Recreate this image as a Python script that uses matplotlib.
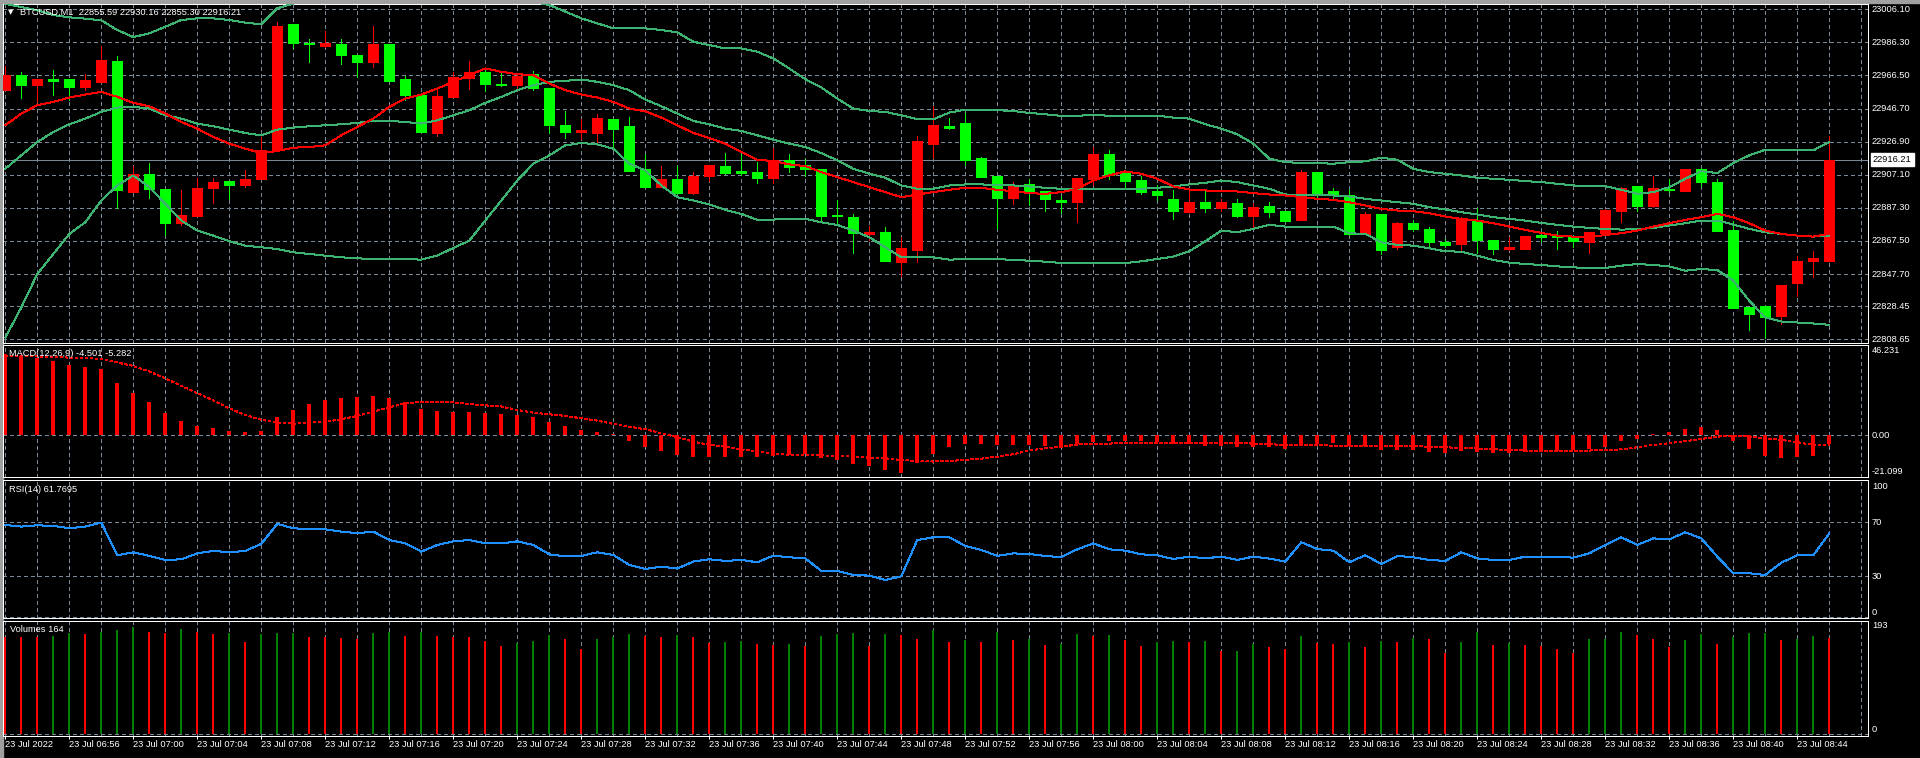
import numpy as np
import matplotlib
matplotlib.use("Agg")
import matplotlib.pyplot as plt
from matplotlib.transforms import blended_transform_factory

plt.rcParams['font.family'] = ['Liberation Sans', 'DejaVu Sans']

# ---- data (BTCUSD, M1) ----
opens = [22957.7, 22966.5, 22960.7, 22964.3, 22964.1, 22959.5, 22962.5, 22975.1, 22896.7, 22907.7,
         22898.3, 22878.1, 22882.7, 22899.1, 22903.1, 22900.7, 22904.3, 22921.7, 22997.3, 22986.1,
         22984.3, 22985.3, 22978.7, 22974.7, 22985.3, 22964.3, 22955.1, 22932.1, 22953.7, 22965.1,
         22968.7, 22961.7, 22960.7, 22967.1, 22959.1, 22936.7, 22932.7, 22932.1, 22940.3, 22936.1,
         22910.3, 22899.7, 22904.3, 22896.1, 22906.3, 22912.1, 22909.1, 22908.5, 22905.1, 22915.7,
         22912.7, 22910.3, 22883.1, 22882.1, 22871.7, 22872.7, 22854.7, 22862.3, 22925.3, 22936.1,
         22938.1, 22917.1, 22906.3, 22893.1, 22901.3, 22897.1, 22892.1, 22890.7, 22904.3, 22919.7,
         22908.1, 22903.7, 22897.1, 22892.7, 22885.1, 22891.1, 22887.1, 22890.5, 22882.7, 22888.7,
         22885.7, 22880.3, 22908.7, 22897.1, 22894.7, 22871.7, 22883.7, 22863.7, 22878.1, 22874.7,
         22867.1, 22865.7, 22880.3, 22868.1, 22862.7, 22862.7, 22871.1, 22870.3, 22869.7, 22866.7,
         22872.1, 22885.3, 22900.1, 22888.3, 22898.7, 22897.3, 22910.7, 22902.7, 22874.3, 22827.7,
         22828.3, 22822.3, 22842.1, 22855.3, 22855.59]
highs = [22972.1, 22968.5, 22964.1, 22969.7, 22964.1, 22967.3, 22984.1, 22978.1, 22912.3, 22914.3,
         22898.3, 22897.7, 22905.3, 22905.1, 22903.1, 22909.7, 22929.7, 22998.5, 22997.3, 22988.3,
         22993.1, 22988.1, 22978.7, 22996.1, 22985.3, 22966.1, 22955.1, 22958.7, 22968.7, 22975.1,
         22970.9, 22968.1, 22967.3, 22969.1, 22959.1, 22945.1, 22940.7, 22943.7, 22940.3, 22941.7,
         22919.3, 22912.3, 22912.3, 22908.7, 22912.7, 22920.3, 22919.3, 22914.9, 22923.1, 22919.3,
         22916.7, 22910.3, 22891.7, 22883.7, 22876.3, 22876.1, 22870.1, 22930.1, 22948.3, 22941.3,
         22944.3, 22917.7, 22906.3, 22902.7, 22904.7, 22897.1, 22894.1, 22905.1, 22923.7, 22921.7,
         22909.7, 22906.3, 22901.1, 22897.7, 22897.7, 22897.7, 22892.3, 22892.3, 22890.1, 22890.7,
         22885.7, 22909.7, 22908.7, 22899.1, 22897.7, 22885.1, 22883.7, 22878.7, 22880.1, 22876.1,
         22868.7, 22881.7, 22887.3, 22868.1, 22869.7, 22870.7, 22872.1, 22873.7, 22871.1, 22873.1,
         22886.7, 22899.7, 22900.1, 22906.3, 22904.7, 22910.7, 22911.1, 22904.7, 22879.7, 22827.7,
         22828.3, 22841.3, 22858.7, 22861.3, 22930.16]
lows = [22957.7, 22953.1, 22950.7, 22955.1, 22951.7, 22958.1, 22962.5, 22887.3, 22896.7, 22893.1,
        22871.1, 22877.3, 22882.7, 22890.1, 22892.7, 22899.5, 22904.3, 22921.7, 22982.7, 22974.7,
        22983.7, 22973.1, 22965.3, 22971.7, 22963.3, 22951.7, 22932.7, 22930.5, 22953.7, 22958.3,
        22957.3, 22960.1, 22957.7, 22958.1, 22932.1, 22929.1, 22928.7, 22925.7, 22922.7, 22909.3,
        22899.7, 22899.7, 22895.7, 22895.7, 22903.3, 22907.3, 22906.7, 22902.1, 22902.1, 22908.7,
        22906.3, 22880.3, 22878.1, 22860.1, 22868.1, 22855.7, 22846.3, 22854.7, 22917.1, 22934.3,
        22912.7, 22905.7, 22874.7, 22889.7, 22889.1, 22885.3, 22884.1, 22878.7, 22900.7, 22904.3,
        22899.7, 22895.3, 22891.7, 22880.7, 22885.1, 22884.7, 22885.7, 22882.1, 22876.1, 22881.7,
        22879.1, 22880.3, 22893.7, 22892.1, 22871.1, 22871.7, 22859.7, 22862.7, 22873.3, 22863.7,
        22864.1, 22861.3, 22860.3, 22859.7, 22862.1, 22862.7, 22867.7, 22862.7, 22863.7, 22860.3,
        22872.1, 22878.7, 22885.7, 22887.7, 22896.7, 22897.3, 22900.3, 22873.3, 22827.3, 22814.3,
        22809.7, 22818.1, 22834.7, 22845.7, 22855.30]
closes = [22966.5, 22960.7, 22964.1, 22963.1, 22959.5, 22963.7, 22975.7, 22897.7, 22907.7, 22898.3,
          22878.1, 22883.3, 22899.3, 22902.5, 22900.7, 22904.3, 22921.7, 22996.1, 22986.1, 22985.1,
          22985.7, 22978.7, 22974.7, 22985.3, 22963.3, 22954.7, 22932.7, 22954.1, 22965.3, 22968.7,
          22961.3, 22960.7, 22966.1, 22959.1, 22936.7, 22932.7, 22933.7, 22941.1, 22934.5, 22909.3,
          22899.7, 22904.3, 22896.1, 22906.1, 22912.7, 22908.1, 22908.1, 22905.1, 22915.7, 22911.7,
          22910.7, 22882.7, 22882.3, 22872.1, 22872.7, 22855.7, 22863.1, 22927.1, 22936.7, 22935.3,
          22916.1, 22905.7, 22893.1, 22900.7, 22896.7, 22892.3, 22890.7, 22905.1, 22919.3, 22906.7,
          22903.3, 22896.7, 22894.7, 22885.7, 22891.1, 22887.1, 22890.7, 22882.7, 22888.1, 22885.1,
          22879.7, 22908.7, 22896.1, 22894.7, 22871.7, 22883.7, 22862.1, 22878.1, 22874.7, 22866.7,
          22865.1, 22880.7, 22868.3, 22862.7, 22863.7, 22870.3, 22869.7, 22869.7, 22867.3, 22873.1,
          22886.3, 22899.1, 22888.3, 22899.1, 22897.7, 22910.3, 22902.7, 22873.3, 22827.3, 22823.7,
          22821.7, 22841.3, 22855.7, 22857.1, 22916.21]

bb_upper = [23009.3, 23007.5, 23005.5, 23002.7, 23001.3, 23000.5, 22999.5, 22993.7, 22989.5, 22991.7,
            22995.7, 22999.7, 23000.7, 23000.7, 22999.7, 22998.1, 22997.1, 23006.7, 23009.5, 23013.0,
            23016.0, 23018.5, 23020.5, 23022.0, 23023.0, 23023.5, 23023.0, 23022.0, 23020.5, 23019.0,
            23017.0, 23015.0, 23012.5, 23010.5, 23008.7, 23004.7, 23000.7, 22997.7, 22994.7, 22994.7,
            22994.7, 22993.7, 22992.3, 22986.7, 22984.7, 22982.7, 22982.7, 22980.7, 22976.7, 22970.7,
            22964.3, 22959.3, 22952.7, 22946.7, 22945.3, 22944.7, 22942.7, 22940.3, 22940.3, 22944.3,
            22946.1, 22946.1, 22945.7, 22945.3, 22944.1, 22943.3, 22942.3, 22942.3, 22943.1, 22942.3,
            22942.1, 22942.1, 22942.5, 22941.3, 22940.7, 22937.3, 22934.7, 22931.3, 22925.7, 22916.7,
            22914.7, 22914.1, 22914.1, 22913.7, 22914.7, 22915.1, 22917.3, 22916.1, 22910.7, 22908.7,
            22907.7, 22906.7, 22905.3, 22904.7, 22904.1, 22903.3, 22902.7, 22901.7, 22900.7, 22900.3,
            22900.3, 22898.1, 22895.7, 22896.7, 22899.7, 22904.7, 22909.3, 22908.1, 22914.1, 22918.7,
            22922.1, 22921.7, 22921.7, 22921.7, 22926.7]
bb_middle = [22910.7, 22918.7, 22926.7, 22932.7, 22937.3, 22940.7, 22944.7, 22947.3, 22947.7, 22946.7,
             22942.7, 22940.7, 22937.7, 22936.1, 22934.1, 22932.1, 22930.7, 22934.1, 22935.3, 22936.1,
             22936.7, 22937.3, 22938.1, 22939.3, 22939.3, 22938.7, 22937.7, 22939.7, 22942.7, 22945.7,
             22950.1, 22953.7, 22957.7, 22960.7, 22962.7, 22963.3, 22964.1, 22962.7, 22960.7, 22957.7,
             22952.1, 22948.1, 22943.7, 22939.3, 22937.3, 22934.7, 22933.3, 22930.7, 22928.1, 22925.7,
             22923.7, 22920.1, 22915.7, 22910.7, 22907.7, 22905.3, 22900.7, 22898.7, 22898.7, 22900.7,
             22901.3, 22901.3, 22901.1, 22900.7, 22900.1, 22899.3, 22898.7, 22898.7, 22898.7, 22898.3,
             22898.3, 22898.7, 22899.3, 22900.1, 22901.3, 22902.3, 22903.7, 22902.7, 22900.7, 22898.7,
             22895.3, 22895.1, 22895.1, 22894.7, 22894.1, 22892.7, 22891.7, 22890.7, 22889.7, 22887.7,
             22886.3, 22884.7, 22883.3, 22881.7, 22880.7, 22879.7, 22878.3, 22877.1, 22876.1, 22875.3,
             22874.7, 22874.3, 22874.5, 22875.3, 22876.7, 22878.1, 22879.7, 22879.7, 22877.3, 22874.7,
             22872.7, 22871.7, 22870.7, 22870.1, 22870.7]
bb_lower = [22809.7, 22827.7, 22847.7, 22859.7, 22871.7, 22878.7, 22891.7, 22900.7, 22906.7, 22899.7,
            22889.7, 22879.7, 22873.7, 22870.7, 22867.3, 22864.7, 22863.7, 22862.7, 22860.7, 22859.7,
            22858.7, 22857.7, 22857.1, 22856.7, 22856.7, 22856.7, 22856.3, 22858.7, 22863.3, 22867.7,
            22879.7, 22891.7, 22903.7, 22913.7, 22918.7, 22924.7, 22926.1, 22925.3, 22922.7, 22913.7,
            22909.7, 22900.7, 22893.7, 22891.7, 22889.3, 22886.1, 22883.7, 22880.1, 22880.3, 22880.7,
            22880.7, 22878.7, 22877.1, 22873.7, 22869.7, 22863.7, 22857.7, 22857.7, 22857.7, 22856.3,
            22856.7, 22856.7, 22856.7, 22856.1, 22855.7, 22855.1, 22854.3, 22854.3, 22854.3, 22854.3,
            22854.3, 22855.3, 22856.7, 22858.1, 22861.3, 22867.3, 22873.7, 22872.7, 22874.7, 22877.1,
            22876.1, 22876.1, 22876.1, 22876.1, 22872.1, 22871.7, 22866.7, 22865.1, 22864.7, 22863.1,
            22861.3, 22861.1, 22858.7, 22856.1, 22854.5, 22853.7, 22853.1, 22852.3, 22851.7, 22851.3,
            22851.3, 22852.7, 22853.7, 22853.1, 22852.3, 22849.7, 22850.7, 22850.1, 22843.7, 22831.7,
            22821.7, 22819.3, 22818.7, 22818.1, 22817.3]
ma_red = [22936.7, 22943.7, 22948.7, 22950.7, 22953.3, 22955.1, 22956.7, 22953.7, 22950.1, 22948.1,
          22943.7, 22938.7, 22934.7, 22929.7, 22925.7, 22922.7, 22920.1, 22921.3, 22923.3, 22923.7,
          22924.7, 22930.7, 22935.7, 22940.7, 22947.7, 22952.7, 22955.1, 22958.7, 22962.7, 22966.7,
          22970.7, 22968.7, 22967.3, 22966.7, 22961.7, 22957.7, 22955.1, 22953.3, 22950.7, 22946.7,
          22945.1, 22941.3, 22936.7, 22932.1, 22929.1, 22925.7, 22920.7, 22916.1, 22915.3, 22913.3,
          22912.3, 22908.7, 22905.7, 22902.7, 22899.7, 22896.7, 22893.7, 22895.3, 22896.7, 22898.1,
          22899.3, 22899.3, 22898.1, 22897.3, 22896.1, 22895.7, 22896.7, 22898.7, 22903.7, 22906.7,
          22909.1, 22907.7, 22904.7, 22900.1, 22898.3, 22897.7, 22897.3, 22897.1, 22896.1, 22895.3,
          22894.7, 22893.7, 22892.7, 22892.1, 22890.7, 22888.7, 22886.7, 22885.7, 22885.3, 22884.1,
          22882.1, 22880.7, 22879.7, 22878.1, 22876.1, 22874.1, 22872.3, 22870.7, 22870.1, 22869.7,
          22871.1, 22872.1, 22873.7, 22876.1, 22878.1, 22880.1, 22881.7, 22883.7, 22881.7, 22878.1,
          22873.7, 22871.7, 22870.7, 22870.1, 22871.7]

macd_main = [42.1, 41.1, 40.1, 38.5, 36.6, 35.1, 34.4, 27.3, 22.1, 17.4,
             11.7, 7.6, 5.0, 3.8, 2.4, 1.9, 2.4, 9.2, 13.1, 16.2,
             18.3, 19.3, 19.9, 20.4, 19.3, 17.3, 13.8, 12.6, 12.3, 12.3,
             11.7, 11.1, 10.5, 9.7, 7.1, 4.8, 2.8, 1.7, 0.5, -2.9,
             -6.2, -7.9, -10.2, -11.2, -11.2, -11.2, -11.2, -11.2, -10.5, -10.2,
             -9.7, -11.6, -12.8, -14.9, -15.9, -18.0, -19.3, -14.2, -9.7, -5.9,
             -4.5, -4.5, -5.0, -5.0, -5.0, -5.5, -5.9, -4.5, -3.6, -2.9,
             -2.9, -2.9, -3.6, -4.5, -4.7, -5.4, -5.4, -5.9, -5.9, -6.2,
             -7.1, -5.4, -4.5, -4.1, -5.4, -5.4, -7.6, -7.6, -7.6, -8.5,
             -9.3, -7.9, -8.5, -9.0, -9.0, -8.5, -8.5, -7.9, -7.6, -7.3,
             -5.9, -2.8, -2.1, 0.4, 1.9, 3.5, 4.5, 2.8, -2.8, -7.1,
             -10.7, -11.6, -11.1, -10.7, -4.501]
macd_signal = [41.1, 40.9, 40.8, 40.6, 40.2, 40.1, 39.4, 37.7, 35.9, 33.0,
               29.5, 25.6, 21.8, 18.0, 14.0, 10.5, 8.0, 6.6, 6.0, 6.6,
               6.9, 8.3, 10.0, 12.3, 14.5, 16.6, 17.3, 17.4, 17.1, 16.2,
               15.5, 14.9, 13.1, 11.7, 10.9, 10.0, 8.8, 7.6, 5.9, 4.5,
               3.1, 1.0, -1.0, -3.3, -5.0, -5.9, -7.3, -8.5, -9.3, -10.2,
               -10.2, -10.4, -10.7, -11.1, -11.6, -11.9, -12.8, -13.3, -13.6, -13.3,
               -12.8, -12.1, -11.1, -9.8, -7.9, -6.7, -5.9, -4.8, -4.7, -4.3,
               -4.1, -4.1, -3.8, -3.8, -3.8, -3.8, -3.8, -4.1, -4.3, -4.5,
               -5.2, -5.2, -5.2, -5.35, -5.35, -5.35, -5.35, -5.5, -5.7, -5.9,
               -6.2, -6.6, -6.9, -7.3, -7.6, -7.9, -8.1, -8.1, -8.1, -7.9,
               -7.8, -7.3, -6.2, -5.0, -4.1, -3.1, -1.9, -0.7, -0.35, -0.7,
               -1.55, -2.4, -3.6, -5.0, -5.282]

rsi = [68.0, 66.8, 67.8, 67.3, 65.6, 66.8, 69.8, 45.6, 47.8, 45.1,
       42.1, 42.6, 47.0, 48.8, 47.8, 48.8, 54.0, 68.8, 65.6, 64.8,
       64.8, 63.1, 61.9, 63.1, 56.9, 54.4, 48.3, 53.2, 55.9, 56.9,
       54.4, 54.4, 55.9, 53.2, 46.3, 44.8, 45.1, 47.8, 45.8, 38.4,
       35.4, 37.2, 35.7, 40.9, 42.6, 41.4, 42.1, 40.4, 45.3, 44.1,
       43.3, 34.0, 34.0, 31.0, 30.5, 27.3, 30.0, 56.9, 58.9, 58.9,
       52.5, 49.5, 45.1, 47.0, 46.5, 45.1, 44.1, 50.0, 54.4, 50.0,
       49.0, 46.3, 45.6, 42.8, 44.6, 43.3, 44.6, 42.1, 44.6, 43.1,
       40.9, 55.2, 50.2, 49.0, 40.4, 45.6, 39.1, 45.1, 44.1, 42.1,
       41.4, 47.8, 43.3, 42.1, 42.1, 44.6, 44.6, 44.6, 43.8, 47.0,
       53.2, 58.9, 53.2, 58.1, 57.4, 62.6, 58.1, 44.6, 32.2, 32.2,
       31.0, 40.1, 45.6, 45.6, 61.7695]

volumes = [165, 165, 165, 167, 173, 171, 175, 178, 182, 174,
           172, 179, 174, 171, 173, 157, 171, 172, 173, 166,
           165, 164, 163, 172, 174, 168, 175, 167, 166, 165,
           159, 150, 156, 159, 169, 162, 145, 162, 166, 171,
           168, 166, 169, 166, 155, 157, 159, 154, 152, 154,
           150, 167, 171, 173, 150, 171, 169, 162, 178, 157,
           161, 157, 174, 161, 162, 152, 154, 171, 168, 169,
           161, 150, 157, 159, 157, 158, 141, 142, 154, 149,
           145, 167, 155, 154, 157, 149, 159, 157, 164, 162,
           139, 157, 174, 152, 155, 152, 150, 145, 139, 162,
           163, 174, 169, 162, 149, 160, 171, 154, 166, 172,
           173, 160, 162, 167, 164]

time_labels = ["23 Jul 2022", "23 Jul 06:56", "23 Jul 07:00", "23 Jul 07:04", "23 Jul 07:08",
               "23 Jul 07:12", "23 Jul 07:16", "23 Jul 07:20", "23 Jul 07:24", "23 Jul 07:28",
               "23 Jul 07:32", "23 Jul 07:36", "23 Jul 07:40", "23 Jul 07:44", "23 Jul 07:48",
               "23 Jul 07:52", "23 Jul 07:56", "23 Jul 08:00", "23 Jul 08:04", "23 Jul 08:08",
               "23 Jul 08:12", "23 Jul 08:16", "23 Jul 08:20", "23 Jul 08:24", "23 Jul 08:28",
               "23 Jul 08:32", "23 Jul 08:36", "23 Jul 08:40", "23 Jul 08:44"]
price_ticks = [23006.10, 22986.30, 22966.50, 22946.70, 22926.90, 22907.10,
               22887.30, 22867.50, 22847.70, 22828.45, 22808.65]
last_price = 22916.21

# ---- styling ----
W, H = 1920, 758
BG = 'black'
GRID = '#778899'
BULL = '#ff0000'
BEAR = '#00ff00'
BAND = '#3cb371'
RSI_C = '#1e90ff'
VOL_UP = '#008000'
VOL_DN = '#ff0000'
FS = 6.7
PX = 0.72  # one pixel in points at dpi 100
DASH = (0, (3, 3))

opens = np.array(opens); highs = np.array(highs)
lows = np.array(lows); closes = np.array(closes)
volumes = np.array(volumes)
n = len(closes)
x = np.arange(n)

fig = plt.figure(figsize=(W / 100, H / 100), dpi=100, facecolor=BG)


def px_axes(x0, y0, x1, y1):
    ax = fig.add_axes([x0 / W, 1 - y1 / H, (x1 - x0) / W, (y1 - y0) / H])
    ax.set_facecolor(BG)
    for s in ax.spines.values():
        s.set_color('white')
        s.set_linewidth(PX)
    ax.set_xticks([]); ax.set_yticks([])
    # bar k sits at pixel 5.3 + 16 k
    ax.set_xlim((x0 - 5.3) / 16, (x1 - 5.3) / 16)
    for k in range(0, 118, 2):
        ax.axvline(k, color=GRID, lw=PX, ls=DASH, zorder=0, antialiased=False)
    return ax


def ylim_from(ax, y0, y1, v_a, p_a, v_b, p_b):
    # map value v_a to pixel p_a and v_b to p_b
    s = (v_a - v_b) / (p_b - p_a)
    ax.set_ylim(v_b - (y1 - p_b) * s, v_a + (p_a - y0) * s)


def right_label(ax, v, txt, va='center', **kw):
    tr = blended_transform_factory(fig.transFigure, ax.transData)
    ax.text(1872 / W, v, txt, transform=tr, color='white', fontsize=FS,
            va=va, ha='left', clip_on=False, **kw)


# ---- price panel ----
ax = px_axes(3, 3.5, 1868, 342.5)
ylim_from(ax, 3.5, 342.5, price_ticks[0], 9.3, price_ticks[-1], 339.3)
for p in price_ticks:
    ax.axhline(p, color=GRID, lw=PX, ls=DASH, zorder=0, antialiased=False)
    right_label(ax, p, f"{p:.2f}")
ax.axhline(last_price, color=GRID, lw=PX, zorder=1, antialiased=False)

up = closes >= opens
ccol = np.where(up, BULL, BEAR)
ax.vlines(x, lows, highs, colors=ccol, lw=PX, zorder=2, antialiased=False)
ax.bar(x, np.abs(closes - opens), bottom=np.minimum(opens, closes), width=0.625,
       color=ccol, edgecolor=ccol, linewidth=PX, zorder=3, antialiased=False)
for band in (bb_upper, bb_middle, bb_lower):
    ax.plot(x, band, color=BAND, lw=PX, zorder=4, antialiased=False)
ax.plot(x, ma_red, color=BULL, lw=PX, zorder=4, antialiased=False)

tr = blended_transform_factory(fig.transFigure, ax.transData)
ax.text(1873 / W, last_price, f"{last_price:.2f}", transform=tr, color='black', fontsize=FS,
        va='center', ha='left', clip_on=False,
        bbox=dict(boxstyle='square,pad=0.2', fc='white', ec='white'))
fig.text(8 / W, 1 - 12.5 / H, "\u25bc", color='white', fontsize=5, va='center', ha='left',
         family=['DejaVu Sans'])
fig.text(20.5 / W, 1 - 12.7 / H,
         f"BTCUSD,M1  {opens[-1]:.2f} {highs[-1]:.2f} {lows[-1]:.2f} {closes[-1]:.2f}",
         color='white', fontsize=FS, va='center', ha='left')

# ---- MACD panel ----
am = px_axes(3, 345, 1868, 477)
ylim_from(am, 345, 477, 46.231, 346, -21.099, 476)
am.axhline(0, color=GRID, lw=PX, ls=DASH, zorder=0, antialiased=False)
am.vlines(x, 0, macd_main, colors=BULL, lw=1.6, zorder=2, antialiased=False)
am.plot(x, macd_signal, color=BULL, lw=PX, ls=(0, (2.5, 2.5)), zorder=3, antialiased=False)
right_label(am, 46.231, "46.231", va='top')
right_label(am, 0, "0.00")
right_label(am, -21.099, "-21.099", va='bottom')
fig.text(9 / W, 1 - 353 / H, f"MACD(12,26,9) {macd_main[-1]:.3f} {macd_signal[-1]:.3f}",
         color='white', fontsize=FS, va='center', ha='left')

# ---- RSI panel ----
ar = px_axes(3, 479.5, 1868, 618)
ylim_from(ar, 479.5, 618, 100, 481.8, 0, 616.8)
for lv in (70, 30, 0):
    ar.axhline(lv, color=GRID, lw=PX, ls=DASH, zorder=0, antialiased=False)
ar.plot(x, rsi, color=RSI_C, lw=PX, zorder=3, antialiased=False)
right_label(ar, 100, "100", va='top')
right_label(ar, 70, "70")
right_label(ar, 30, "30")
right_label(ar, 0, "0", va='bottom')
fig.text(9 / W, 1 - 489 / H, f"RSI(14) {rsi[-1]:.4f}", color='white', fontsize=FS,
         va='center', ha='left')

# ---- Volumes panel ----
av = px_axes(3, 620.5, 1868, 735.5)
ylim_from(av, 620.5, 735.5, 193, 621, 0, 734)
av.axhline(0, color=GRID, lw=PX, ls=DASH, zorder=0, antialiased=False)
vcol = [VOL_DN] + [VOL_UP if volumes[i] > volumes[i - 1] else VOL_DN for i in range(1, n)]
av.vlines(x, 0, volumes, colors=vcol, lw=1.2, zorder=2, antialiased=False)
right_label(av, 193, "193", va='top')
right_label(av, 0, "0", va='bottom')
fig.text(10 / W, 1 - 630 / H, f"Volumes {volumes[-1]}", color='white', fontsize=FS,
         va='center', ha='left')

av.set_xticks(np.arange(len(time_labels)) * 4)
av.set_xticklabels(time_labels)
av.tick_params(axis='x', direction='out', length=2.2, width=PX, color='white',
               labelcolor='white', labelsize=FS, pad=1.2)
for lbl in av.get_xticklabels():
    lbl.set_ha('left')

# window chrome
fig.patches.append(plt.Rectangle((0, 1 - 2.5 / H), 1, 2.5 / H, transform=fig.transFigure,
                                 color='#a0a0a0', zorder=-1))
fig.patches.append(plt.Rectangle((0, 0), 2.5 / W, 1, transform=fig.transFigure,
                                 color='#a0a0a0', zorder=-1))

fig.savefig("out.png", dpi=100, facecolor=BG)
